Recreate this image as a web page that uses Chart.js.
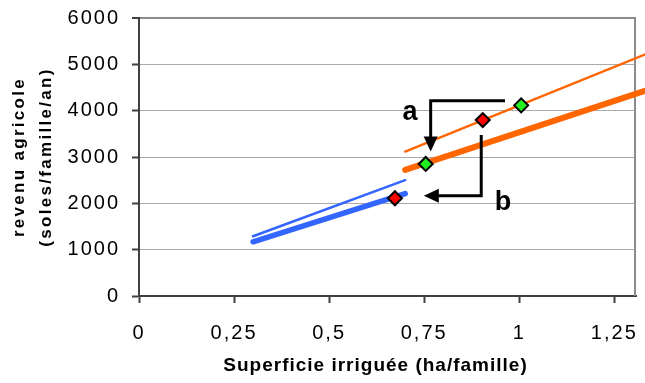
<!DOCTYPE html>
<html><head><meta charset="utf-8">
<script src="https://cdn.jsdelivr.net/npm/chart.js@4.4.0/dist/chart.umd.min.js"></script>
<style>html,body{margin:0;padding:0;background:#fff}#wrap{width:645px;height:383px;position:relative;background:#fff}</style>
</head><body><div id="wrap"><canvas id="c"></canvas></div>
<script>
// ---- data ----
const xTickValues = [0, 0.25, 0.5, 0.75, 1, 1.25];
const xTickLabels = ['0', '0,25', '0,5', '0,75', '1', '1,25'];
const yTickValues = [0, 1000, 2000, 3000, 4000, 5000, 6000];
const yTickLabels = ['0', '1000', '2000', '3000', '4000', '5000', '6000'];

const blueThinX = [0.30, 0.70];    const blueThinY = [1290, 2500];
const blueThickX = [0.30, 0.70];   const blueThickY = [1170, 2210];
const orangeThinX = [0.70, 1.33];  const orangeThinY = [3117, 5210];
const orangeThickX = [0.70, 1.33]; const orangeThickY = [2720, 4427];
const greenX = [0.754, 1.005];     const greenY = [2850, 4115];
const redX = [0.673, 0.904];       const redY = [2110, 3797];

const arrowAX = [0.9625, 0.767, 0.767]; const arrowAY = [4214, 4214, 3117];
const arrowBX = [0.900, 0.900, 0.749];  const arrowBY = [3476, 2163, 2163];
const noteText = ['a', 'b'];
const noteX = [0.7126, 0.957];
const noteY = [3800, 1854];

const xTitle = 'Superficie irriguée (ha/famille)';
const yTitle = ['revenu agricole', '(soles/famille/an)'];

const pts = (xs, ys) => xs.map((x, i) => ({x, y: ys[i]}));

// ---- plugins ----
const textStyle = {
  id: 'textStyle',
  afterUpdate(chart) {
    Object.values(chart.scales).forEach(s => {
      if (s._patched) return; s._patched = true;
      const cfg = s.id === 'x' ? {labels: 2, title: 1, dx: -12} : {labels: 2, title: 2.3, dx: 0};
      const dl = s.drawLabels, dt = s.drawTitle;
      s.drawLabels = function (a) { const c = this.ctx; c.save(); c.letterSpacing = cfg.labels + 'px'; dl.call(this, a); c.restore(); };
      s.drawTitle = function (a) { const c = this.ctx; c.save(); c.letterSpacing = cfg.title + 'px'; c.translate(cfg.dx, 0); dt.call(this, a); c.restore(); };
    });
  }
};

const frame = {
  id: 'frame',
  beforeDatasetsDraw(chart) {
    const {ctx, chartArea: a} = chart;
    ctx.save();
    ctx.strokeStyle = '#8c8c8c'; ctx.lineWidth = 2;
    ctx.beginPath(); ctx.moveTo(a.right - 1, a.top); ctx.lineTo(a.right - 1, a.bottom); ctx.stroke();
    ctx.restore();
  }
};

function drawArrow(ctx, xs, ys, sx, sy) {
  const p = xs.map((x, i) => [sx.getPixelForValue(x), sy.getPixelForValue(ys[i])]);
  const n = p.length, tip = p[n - 1], prev = p[n - 2];
  const dx = tip[0] - prev[0], dy = tip[1] - prev[1], L = Math.hypot(dx, dy);
  const ux = dx / L, uy = dy / L, head = 15, hw = 7;
  const base = [tip[0] - ux * head, tip[1] - uy * head];
  ctx.beginPath();
  ctx.moveTo(p[0][0], p[0][1]);
  for (let i = 1; i < n - 1; i++) ctx.lineTo(p[i][0], p[i][1]);
  ctx.lineTo(base[0] + ux * 1, base[1] + uy * 1);
  ctx.stroke();
  ctx.beginPath();
  ctx.moveTo(tip[0], tip[1]);
  ctx.lineTo(base[0] - uy * hw, base[1] + ux * hw);
  ctx.lineTo(base[0] + uy * hw, base[1] - ux * hw);
  ctx.closePath(); ctx.fill();
}

const notes = {
  id: 'notes',
  afterDatasetsDraw(chart) {
    const {ctx} = chart, sx = chart.scales.x, sy = chart.scales.y;
    ctx.save();
    ctx.strokeStyle = '#000'; ctx.fillStyle = '#000'; ctx.lineWidth = 3;
    ctx.lineJoin = 'miter'; ctx.lineCap = 'butt';
    drawArrow(ctx, arrowAX, arrowAY, sx, sy);
    drawArrow(ctx, arrowBX, arrowBY, sx, sy);
    ctx.font = 'bold 27px "Liberation Sans", Arial, sans-serif';
    ctx.textAlign = 'center'; ctx.textBaseline = 'alphabetic';
    noteText.forEach((t, i) => ctx.fillText(t, sx.getPixelForValue(noteX[i]), sy.getPixelForValue(noteY[i])));
    ctx.restore();
  }
};

// ---- chart ----
const FONT = '"Liberation Sans", Arial, Helvetica, sans-serif';
const marker = (xs, ys, color) => ({
  data: pts(xs, ys), showLine: false, pointStyle: 'rectRot', pointRadius: 7, pointHoverRadius: 7,
  pointBackgroundColor: color, pointBorderColor: '#000', pointBorderWidth: 2
});
const line = (xs, ys, color, w) => ({
  data: pts(xs, ys), showLine: true, pointRadius: 0, borderColor: color, borderWidth: w,
  borderCapStyle: 'round', clip: false, fill: false
});

new Chart(document.getElementById('c'), {
  type: 'scatter',
  data: {
    datasets: [
      marker(greenX, greenY, '#22ee22'),
      marker(redX, redY, '#ff0000'),
      line(blueThinX, blueThinY, '#3366ff', 2.5),
      line(blueThickX, blueThickY, '#3366ff', 5.5),
      line(orangeThinX, orangeThinY, '#ff6600', 2.5),
      line(orangeThickX, orangeThickY, '#ff6600', 6)
    ]
  },
  options: {
    responsive: true, maintainAspectRatio: false, animation: false, devicePixelRatio: 1,
    layout: {padding: {top: 18, right: 7, left: 0, bottom: 0}},
    plugins: {legend: {display: false}, tooltip: {enabled: false}},
    scales: {
      x: {
        type: 'linear', min: 0, max: 1.307,
        afterBuildTicks: s => { s.ticks = xTickValues.map(v => ({value: v})); },
        afterFit: s => { s.height = 87; s.paddingLeft = 0; s.paddingRight = 0; s.paddingTop = 0; s.paddingBottom = 0; },
        ticks: {
          autoSkip: false, maxRotation: 0, padding: 18, color: '#000',
          font: {family: FONT, size: 20},
          callback: v => xTickLabels[xTickValues.indexOf(v)]
        },
        grid: {display: true, drawOnChartArea: false, drawTicks: true, tickLength: 7, tickColor: '#404040', tickWidth: 2},
        border: {display: true, color: '#404040', width: 2},
        title: {display: true, text: xTitle, color: '#000', font: {family: FONT, size: 19, weight: 'bold', lineHeight: 1.2}, padding: {top: 0, bottom: 5.6}}
      },
      y: {
        type: 'linear', min: 0, max: 6000,
        afterBuildTicks: s => { s.ticks = yTickValues.map(v => ({value: v})); },
        afterFit: s => { s.width = 139; s.paddingTop = 0; s.paddingBottom = 0; s.paddingLeft = 0; s.paddingRight = 0; },
        ticks: {
          padding: 12, color: '#000', font: {family: FONT, size: 20},
          callback: v => yTickLabels[yTickValues.indexOf(v)]
        },
        grid: {
          display: true, drawTicks: true, tickLength: 7, tickColor: '#404040', tickWidth: 2,
          color: c => c.tick.value === 6000 ? '#8c8c8c' : (c.tick.value === 0 ? '#404040' : '#ababab'),
          lineWidth: c => c.tick.value === 6000 ? 2 : 1
        },
        border: {display: true, color: '#404040', width: 2},
        title: {display: true, text: yTitle, color: '#000', font: {family: FONT, size: 17, weight: 'bold', lineHeight: 1.6}, padding: {top: 6, bottom: 0}}
      }
    }
  },
  plugins: [textStyle, frame, notes]
});
</script></body></html>
